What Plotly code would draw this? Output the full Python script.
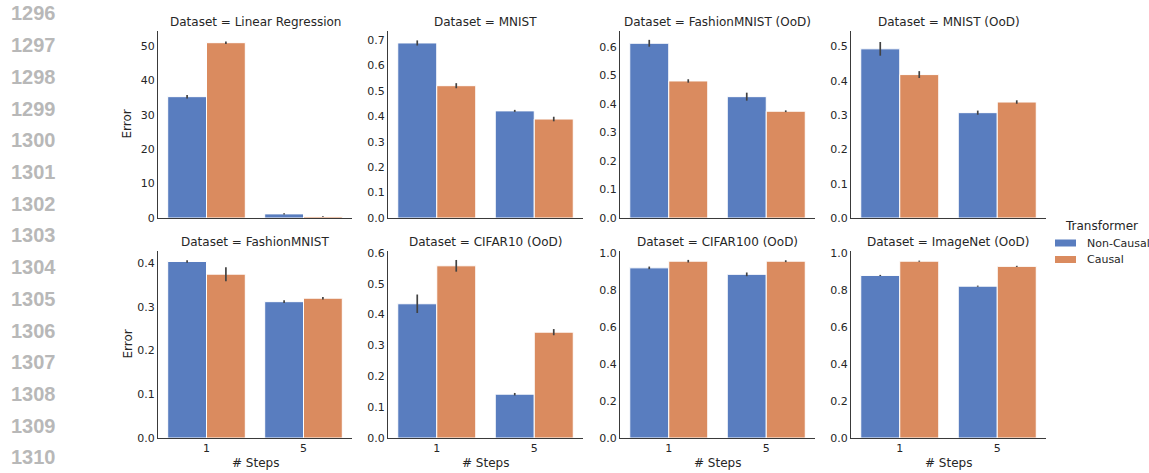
import plotly.graph_objects as go

# ---------------- data ----------------
datasets = ["Linear Regression", "MNIST", "FashionMNIST (OoD)", "MNIST (OoD)",
            "FashionMNIST", "CIFAR10 (OoD)", "CIFAR100 (OoD)", "ImageNet (OoD)"]
steps = ["1", "5"]
series = ["Non-Causal", "Causal"]
noncausal = [[35.3, 1.2], [0.688, 0.421], [0.612, 0.425], [0.493, 0.307],
             [0.404, 0.312], [0.435, 0.142], [0.919, 0.884], [0.878, 0.820]]
causal = [[51.0, 0.45], [0.520, 0.389], [0.480, 0.374], [0.418, 0.338],
          [0.375, 0.320], [0.558, 0.343], [0.955, 0.955], [0.955, 0.927]]
err_noncausal = [[0.5, 0.15], [0.010, 0.004], [0.012, 0.014], [0.020, 0.006],
                 [0.003, 0.003], [0.030, 0.004], [0.007, 0.010], [0.003, 0.003]]
err_causal = [[0.35, 0.1], [0.010, 0.009], [0.006, 0.003], [0.010, 0.005],
              [0.016, 0.003], [0.019, 0.010], [0.007, 0.005], [0.003, 0.003]]
y_ticks = [[0, 10, 20, 30, 40, 50],
           [0, 0.1, 0.2, 0.3, 0.4, 0.5, 0.6, 0.7],
           [0, 0.1, 0.2, 0.3, 0.4, 0.5, 0.6],
           [0, 0.1, 0.2, 0.3, 0.4, 0.5],
           [0, 0.1, 0.2, 0.3, 0.4],
           [0, 0.1, 0.2, 0.3, 0.4, 0.5, 0.6],
           [0, 0.2, 0.4, 0.6, 0.8, 1.0],
           [0, 0.2, 0.4, 0.6, 0.8, 1.0]]
line_numbers = [str(n) for n in range(1296, 1311)]

# ---------------- style ----------------
W, H = 1149, 473
colors = ["#597DBF", "#DA8B5F"]
err_color = "#424242"
text_color = "#262626"
spine_color = "#3a3a3a"
FONT = "DejaVu Sans"

col_px = [(158, 352), (388, 583), (620, 815), (851, 1046)]
row_px = [(31, 218), (251, 438)]
y_tops = [54.4, 0.735, 0.655, 0.545, 0.428, 0.606, 1.01, 1.01]

fig = go.Figure()
layout = dict(
    width=W, height=H, margin=dict(l=0, r=0, t=0, b=0, autoexpand=False),
    paper_bgcolor="white", plot_bgcolor="white",
    barmode="group", bargap=0.2, bargroupgap=0.0,
    showlegend=False,
    font=dict(family=FONT, color=text_color, size=11),
)
annotations = []
shapes = []


def px_x(v):
    return v / W


def px_y(v):
    return 1 - v / H


for i, name in enumerate(datasets):
    r, c = divmod(i, 4)
    ax = "" if i == 0 else str(i + 1)
    xa, ya = "x" + ax, "y" + ax
    for s, (vals, errs) in enumerate([(noncausal[i], err_noncausal[i]),
                                      (causal[i], err_causal[i])]):
        fig.add_trace(go.Bar(
            x=steps, y=vals, name=series[s], xaxis=xa, yaxis=ya,
            marker=dict(color=colors[s], line=dict(color="white", width=1)),
            error_y=dict(type="data", array=errs, color=err_color,
                         thickness=1.7, width=0),
            offsetgroup=str(s), showlegend=False,
        ))
    x0, x1 = col_px[c]
    y0, y1 = row_px[r]
    layout["xaxis" + ax] = dict(
        domain=[px_x(x0), px_x(x1)], anchor=ya, type="category", range=[-0.5, 1.5],
        showline=True, linecolor=spine_color, linewidth=1.25,
        showgrid=False, zeroline=False, ticks="", automargin=False,
        showticklabels=(r == 1),
        tickfont=dict(size=11, color=text_color),
    )
    fmt = "d" if i == 0 else ".1f"
    layout["yaxis" + ax] = dict(
        domain=[px_y(y1), px_y(y0)], anchor=xa, range=[0, y_tops[i]],
        showline=True, linecolor=spine_color, linewidth=1.25,
        showgrid=False, zeroline=False, ticks="", automargin=False,
        tickvals=y_ticks[i], tickformat=fmt,
        tickfont=dict(size=11, color=text_color),
    )
    annotations.append(dict(
        text="Dataset = " + name, x=px_x((x0 + x1) / 2), y=px_y(y0 - 9),
        xref="paper", yref="paper", showarrow=False,
        font=dict(size=12, color=text_color), xanchor="center", yanchor="middle",
    ))
    if r == 1:
        annotations.append(dict(
            text="# Steps", x=px_x((x0 + x1) / 2), y=px_y(463),
            xref="paper", yref="paper", showarrow=False,
            font=dict(size=12, color=text_color), xanchor="center", yanchor="middle",
        ))
    if c == 0:
        annotations.append(dict(
            text="Error", x=px_x(127), y=px_y((y0 + y1) / 2), textangle=-90,
            xref="paper", yref="paper", showarrow=False,
            font=dict(size=12, color=text_color), xanchor="center", yanchor="middle",
        ))

# line numbers on the left margin
for k, lab in enumerate(line_numbers):
    annotations.append(dict(
        text=lab, x=px_x(33), y=px_y(13.5 + 31.7 * k), xref="paper", yref="paper",
        showarrow=False, xanchor="center", yanchor="middle",
        font=dict(family="Liberation Sans", size=20, color="#b8b8b8", weight="bold"),
    ))

# legend (drawn manually to mimic seaborn patches)
annotations.append(dict(
    text="Transformer", x=px_x(1101), y=px_y(226), xref="paper", yref="paper",
    showarrow=False, xanchor="center", yanchor="middle",
    font=dict(size=12, color=text_color)))
for s, lab in enumerate(series):
    yc = 243 + 16.5 * s
    shapes.append(dict(type="rect", xref="paper", yref="paper",
                       x0=px_x(1055), x1=px_x(1076),
                       y0=px_y(yc + 3.5), y1=px_y(yc - 3.5),
                       fillcolor=colors[s], line=dict(width=0)))
    annotations.append(dict(
        text=lab, x=px_x(1085), y=px_y(yc), xref="paper", yref="paper",
        showarrow=False, xanchor="left", yanchor="middle",
        font=dict(size=11, color=text_color)))

layout["annotations"] = annotations
layout["shapes"] = shapes
fig.update_layout(**layout)
fig.write_html("out.html")
